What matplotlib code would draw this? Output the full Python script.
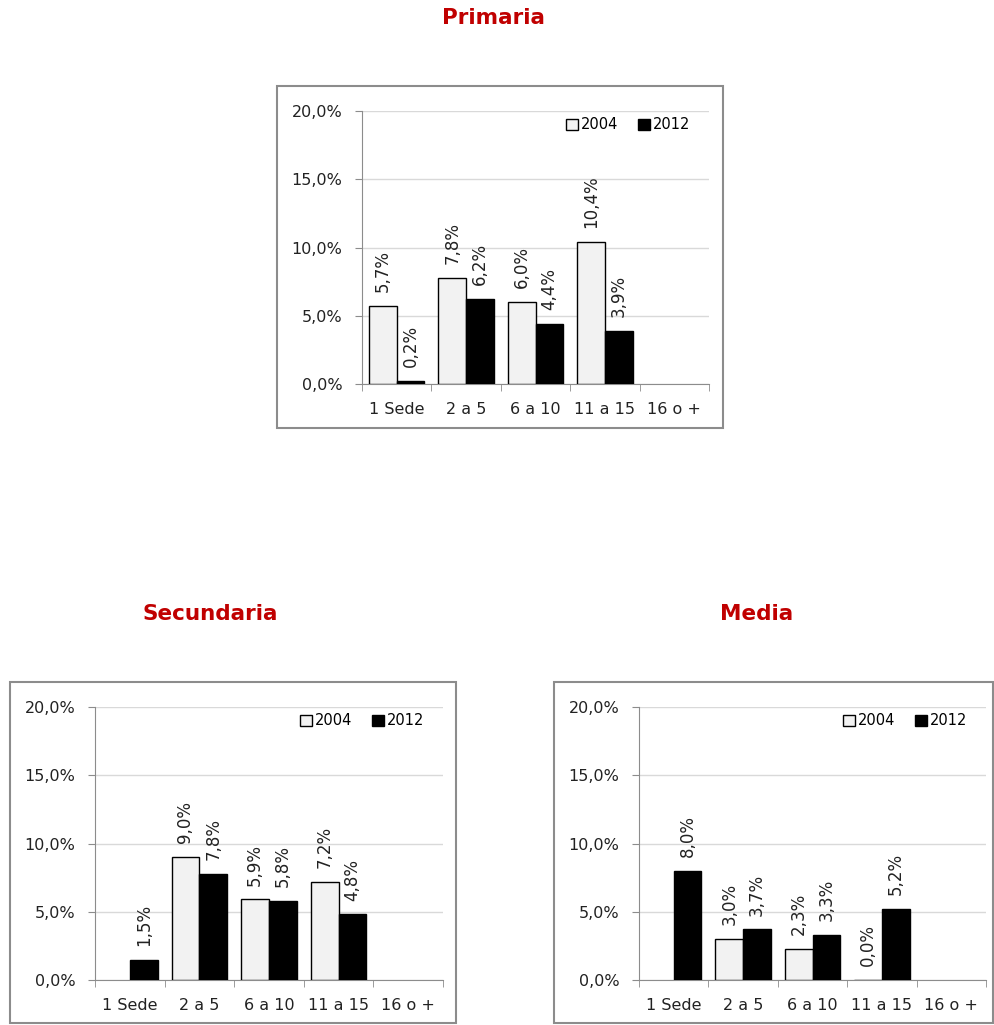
import matplotlib
matplotlib.use('Agg')
import matplotlib.pyplot as plt
from matplotlib.patches import Rectangle
import numpy as np

categories = ['1 Sede', '2 a 5', '6 a 10', '11 a 15', '16 o +']
years = ['2004', '2012']

primaria_2004 = [5.7, 7.8, 6.0, 10.4, None]
primaria_2012 = [0.2, 6.2, 4.4, 3.9, None]
secundaria_2004 = [None, 9.0, 5.9, 7.2, None]
secundaria_2012 = [1.5, 7.8, 5.8, 4.8, None]
media_2004 = [None, 3.0, 2.3, 0.0, None]
media_2012 = [8.0, 3.7, 3.3, 5.2, None]

yticks = [0, 5, 10, 15, 20]

W, H = 994, 1025
fig = plt.figure(figsize=(W / 100, H / 100), dpi=100)


def px_rect(x0, y0, x1, y1):
  return [x0 / W, 1 - y1 / H, (x1 - x0) / W, (y1 - y0) / H]


def draw_panel(rect_ax, rect_frame, title, title_xy, v2004, v2012):
  frame = Rectangle((rect_frame[0], rect_frame[1]), rect_frame[2], rect_frame[3],
                    transform=fig.transFigure, facecolor='none', edgecolor='#8c8c8c',
                    linewidth=1.5, zorder=-1)
  fig.add_artist(frame)
  fig.text(title_xy[0] / W, 1 - title_xy[1] / H, title, color='#C00000', fontsize=15.5,
           fontweight='bold', ha='center', va='center')

  ax = fig.add_axes(rect_ax)
  ax.set_facecolor('none')
  x = np.arange(len(categories))
  bw = 0.4
  for vals, off, color, label in [(v2004, -bw / 2, '#F2F2F2', years[0]),
                                  (v2012, bw / 2, 'black', years[1])]:
    xs = [xi + off for xi, v in zip(x, vals) if v is not None]
    hs = [v for v in vals if v is not None]
    ax.bar(xs, hs, width=bw, color=color, edgecolor='black', linewidth=1, label=label, zorder=3)
    for xi, h in zip(xs, hs):
      ax.annotate('{:.1f}%'.format(h).replace('.', ','), (xi, h), xytext=(0, 10),
                  textcoords='offset points', rotation=90, ha='center', va='bottom',
                  fontsize=12, color='#222222')

  ax.set_xlim(-0.5, len(categories) - 0.5)
  ax.set_ylim(0, 20)
  ax.set_yticks(yticks)
  ax.set_yticklabels(['{:.1f}%'.format(t).replace('.', ',') for t in yticks], fontsize=11.5,
                     color='#222222')
  ax.yaxis.grid(True, color='#d9d9d9', linewidth=1, zorder=0)
  ax.set_axisbelow(True)
  ax.set_xticks(x)
  ax.set_xticklabels(categories, fontsize=11.5, color='#222222')
  ax.set_xticks(np.arange(-0.5, len(categories)), minor=True)
  ax.tick_params(axis='x', which='major', length=0, pad=13)
  ax.tick_params(axis='x', which='minor', length=5, color='#8c8c8c', direction='out')
  ax.tick_params(axis='y', length=5, color='#8c8c8c', direction='out', pad=9)
  for s in ['top', 'right']:
    ax.spines[s].set_visible(False)
  for s in ['left', 'bottom']:
    ax.spines[s].set_color('#8c8c8c')
  leg = ax.legend(loc='upper right', bbox_to_anchor=(0.98, 1.02), ncol=2, frameon=True,
                  fontsize=10.5, handlelength=0.8, handleheight=0.8, handletextpad=0.2,
                  columnspacing=1.4, borderpad=0.3, fancybox=False)
  leg.get_frame().set_facecolor('white')
  leg.get_frame().set_edgecolor('none')
  leg.get_frame().set_alpha(1)
  return ax


draw_panel(px_rect(362, 111, 709, 384), px_rect(277, 86, 723, 428), 'Primaria', (494, 18),
           primaria_2004, primaria_2012)
draw_panel(px_rect(95, 707, 443, 980), px_rect(10, 682, 456, 1023), 'Secundaria', (210, 614),
           secundaria_2004, secundaria_2012)
draw_panel(px_rect(639, 707, 986, 980), px_rect(554, 682, 993, 1023), 'Media', (757, 614),
           media_2004, media_2012)

plt.savefig('out.png', dpi=100)
plt.close('all')
